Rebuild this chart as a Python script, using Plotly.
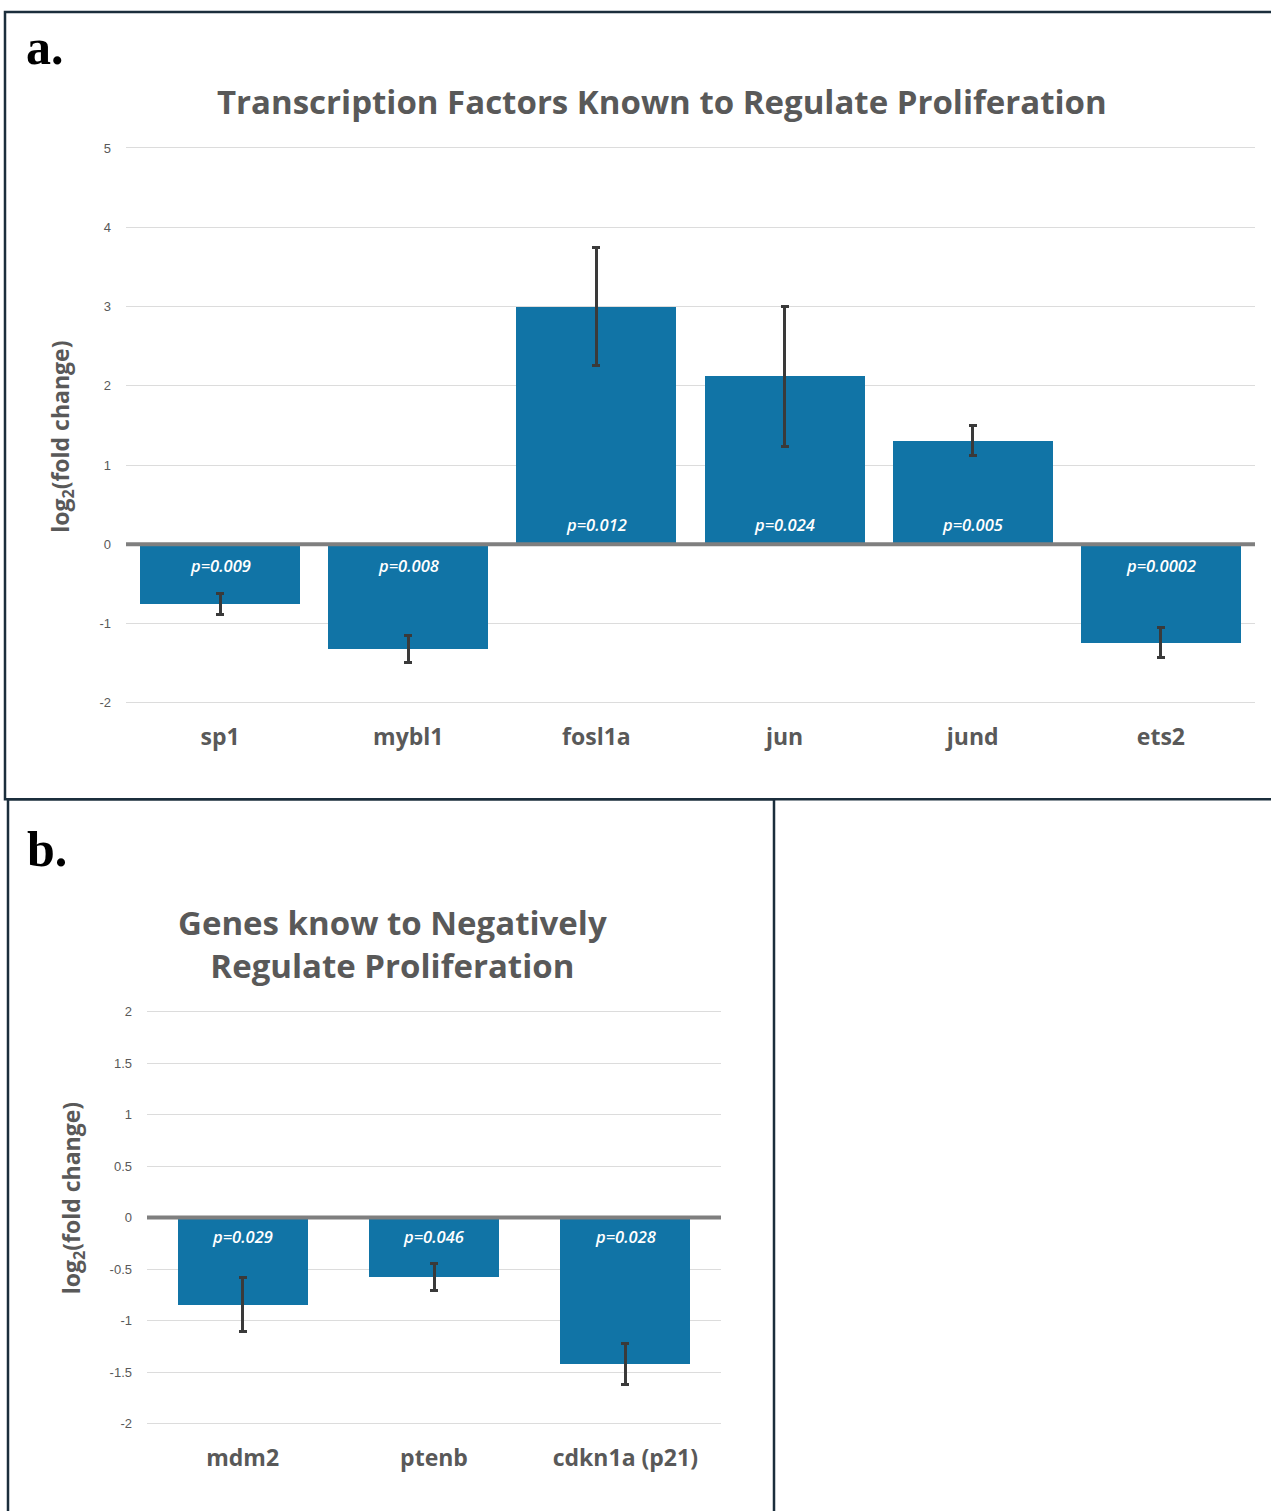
import plotly.graph_objects as go

# ---------------- data ----------------
cats_a = ["sp1", "mybl1", "fosl1a", "jun", "jund", "ets2"]
vals_a = [-0.75, -1.32, 3.0, 2.12, 1.31, -1.24]
err_a = [0.13, 0.17, 0.75, 0.88, 0.19, 0.185]
p_a = ["p=0.009", "p=0.008", "p=0.012", "p=0.024", "p=0.005", "p=0.0002"]
ticks_a = [-2, -1, 0, 1, 2, 3, 4, 5]
ticktext_a = ["-2", "-1", "0", "1", "2", "3", "4", "5"]

cats_b = ["mdm2", "ptenb", "cdkn1a (p21)"]
vals_b = [-0.845, -0.58, -1.42]
err_b = [0.26, 0.13, 0.2]
p_b = ["p=0.029", "p=0.046", "p=0.028"]
ticks_b = [-2, -1.5, -1, -0.5, 0, 0.5, 1, 1.5, 2]
ticktext_b = ["-2", "-1.5", "-1", "-0.5", "0", "0.5", "1", "1.5", "2"]

title_a = "Transcription Factors Known to Regulate Proliferation"
title_b = "Genes know to Negatively<br>Regulate Proliferation"
ylab = "log<sub>2</sub>(fold change)"

# ---------------- style ----------------
W, H = 1271, 1511
BAR = "#1174A6"
GREY = "#595959"
GRID = "#dcdcdc"
BORDER = "#1b2e3c"
ERR = "#3a3a3a"
EPS = 0.025


def px(x):
    return x / W


def py(y):
    return 1 - y / H


# pixel extents of the plotting areas (value range -> pixels)
a_top, a_bot = 144, 703      # y=5 .. y=-2
b_top, b_bot = 1014, 1429    # y=2 .. y=-2
a_pu = (a_bot - a_top) / 7
b_pu = (b_bot - b_top) / 4

fig = go.Figure()

fig.add_trace(go.Bar(
    x=cats_a, y=vals_a, width=0.85, marker=dict(color=BAR, line=dict(width=0)),
    error_y=dict(type="data", array=err_a, visible=True, color=ERR, thickness=3, width=4),
    xaxis="x", yaxis="y", showlegend=False, hoverinfo="skip"))

fig.add_trace(go.Bar(
    x=cats_b, y=vals_b, width=0.68, marker=dict(color=BAR, line=dict(width=0)),
    error_y=dict(type="data", array=err_b, visible=True, color=ERR, thickness=3, width=4),
    xaxis="x2", yaxis="y2", showlegend=False, hoverinfo="skip"))

tickfont = dict(family="Liberation Sans, Arial", size=13, color=GREY)
catfont = dict(family="Open Sans", size=23, color=GREY, weight="bold")

fig.update_layout(
    width=W, height=H, margin=dict(l=0, r=0, t=0, b=0),
    paper_bgcolor="white", plot_bgcolor="white",
    bargap=0,
    xaxis=dict(domain=[px(126), px(1255)], anchor="y", showgrid=False, showline=False,
               zeroline=False, ticks="", tickfont=catfont, ticklabelstandoff=16,
               range=[-0.5, 5.5]),
    yaxis=dict(domain=[py(a_bot + EPS * a_pu), py(a_top - EPS * a_pu)], anchor="x",
               range=[-2 - EPS, 5 + EPS], tickvals=ticks_a, ticktext=ticktext_a,
               showgrid=True, gridcolor=GRID, gridwidth=1, zeroline=False, showline=False,
               ticks="", tickfont=tickfont, ticklabelstandoff=14),
    xaxis2=dict(domain=[px(147), px(721)], anchor="y2", showgrid=False, showline=False,
                zeroline=False, ticks="", tickfont=catfont, ticklabelstandoff=16,
                range=[-0.5, 2.5]),
    yaxis2=dict(domain=[py(b_bot + EPS * b_pu), py(b_top - EPS * b_pu)], anchor="x2",
                range=[-2 - EPS, 2 + EPS], tickvals=ticks_b, ticktext=ticktext_b,
                showgrid=True, gridcolor=GRID, gridwidth=1, zeroline=False, showline=False,
                ticks="", tickfont=tickfont, ticklabelstandoff=14),
)

# zero lines drawn above the bars
for xr, yr in (("x domain", "y"), ("x2 domain", "y2")):
    fig.add_shape(type="line", xref=xr, yref=yr, x0=0, x1=1, y0=0, y1=0,
                  line=dict(color="#7f7f7f", width=4), layer="above")

# panel borders
fig.add_shape(type="rect", xref="paper", yref="paper", x0=px(5), x1=px(1280), y0=py(800), y1=py(7),
              line=dict(color=BORDER, width=2.5), layer="above")
fig.add_shape(type="rect", xref="paper", yref="paper", x0=px(8), x1=px(774), y0=py(1520), y1=py(800),
              line=dict(color=BORDER, width=2.5), layer="above")

ann = []
pfont = dict(family="Open Sans", size=16.5, color="white", weight=600, style="italic")
for c, v, p in zip(cats_a, vals_a, p_a):
    ann.append(dict(x=c, y=0, xref="x", yref="y", text=p, showarrow=False,
                    xanchor="center", yanchor="middle",
                    yshift=20 if v > 0 else -21, font=pfont))
for c, v, p in zip(cats_b, vals_b, p_b):
    ann.append(dict(x=c, y=0, xref="x2", yref="y2", text=p, showarrow=False,
                    xanchor="center", yanchor="middle", yshift=-19, font=pfont))


def paper_text(x, y, text, font, **kw):
    d = dict(x=px(x), y=py(y), xref="paper", yref="paper", text=text, showarrow=False,
             xanchor="center", yanchor="middle", font=font)
    d.update(kw)
    return d


ann += [
    paper_text(662, 97, f"<b>{title_a}</b>", dict(family="Open Sans", size=33, color=GREY)),
    paper_text(392, 946, f"<b>{title_b}</b>", dict(family="Open Sans", size=33, color=GREY)),
    paper_text(62, 435, f"<b>{ylab}</b>", dict(family="Open Sans", size=23, color=GREY), textangle=-90),
    paper_text(72, 1202, f"<b>{ylab}</b>", dict(family="Open Sans", size=23, color=GREY), textangle=-90),
    paper_text(45, 42, "<b>a.</b>", dict(family="Liberation Serif", size=50, color="black")),
    paper_text(47, 850, "<b>b.</b>", dict(family="Liberation Serif", size=50, color="black")),
]
fig.update_layout(annotations=ann)

fig.write_html("out.html")
